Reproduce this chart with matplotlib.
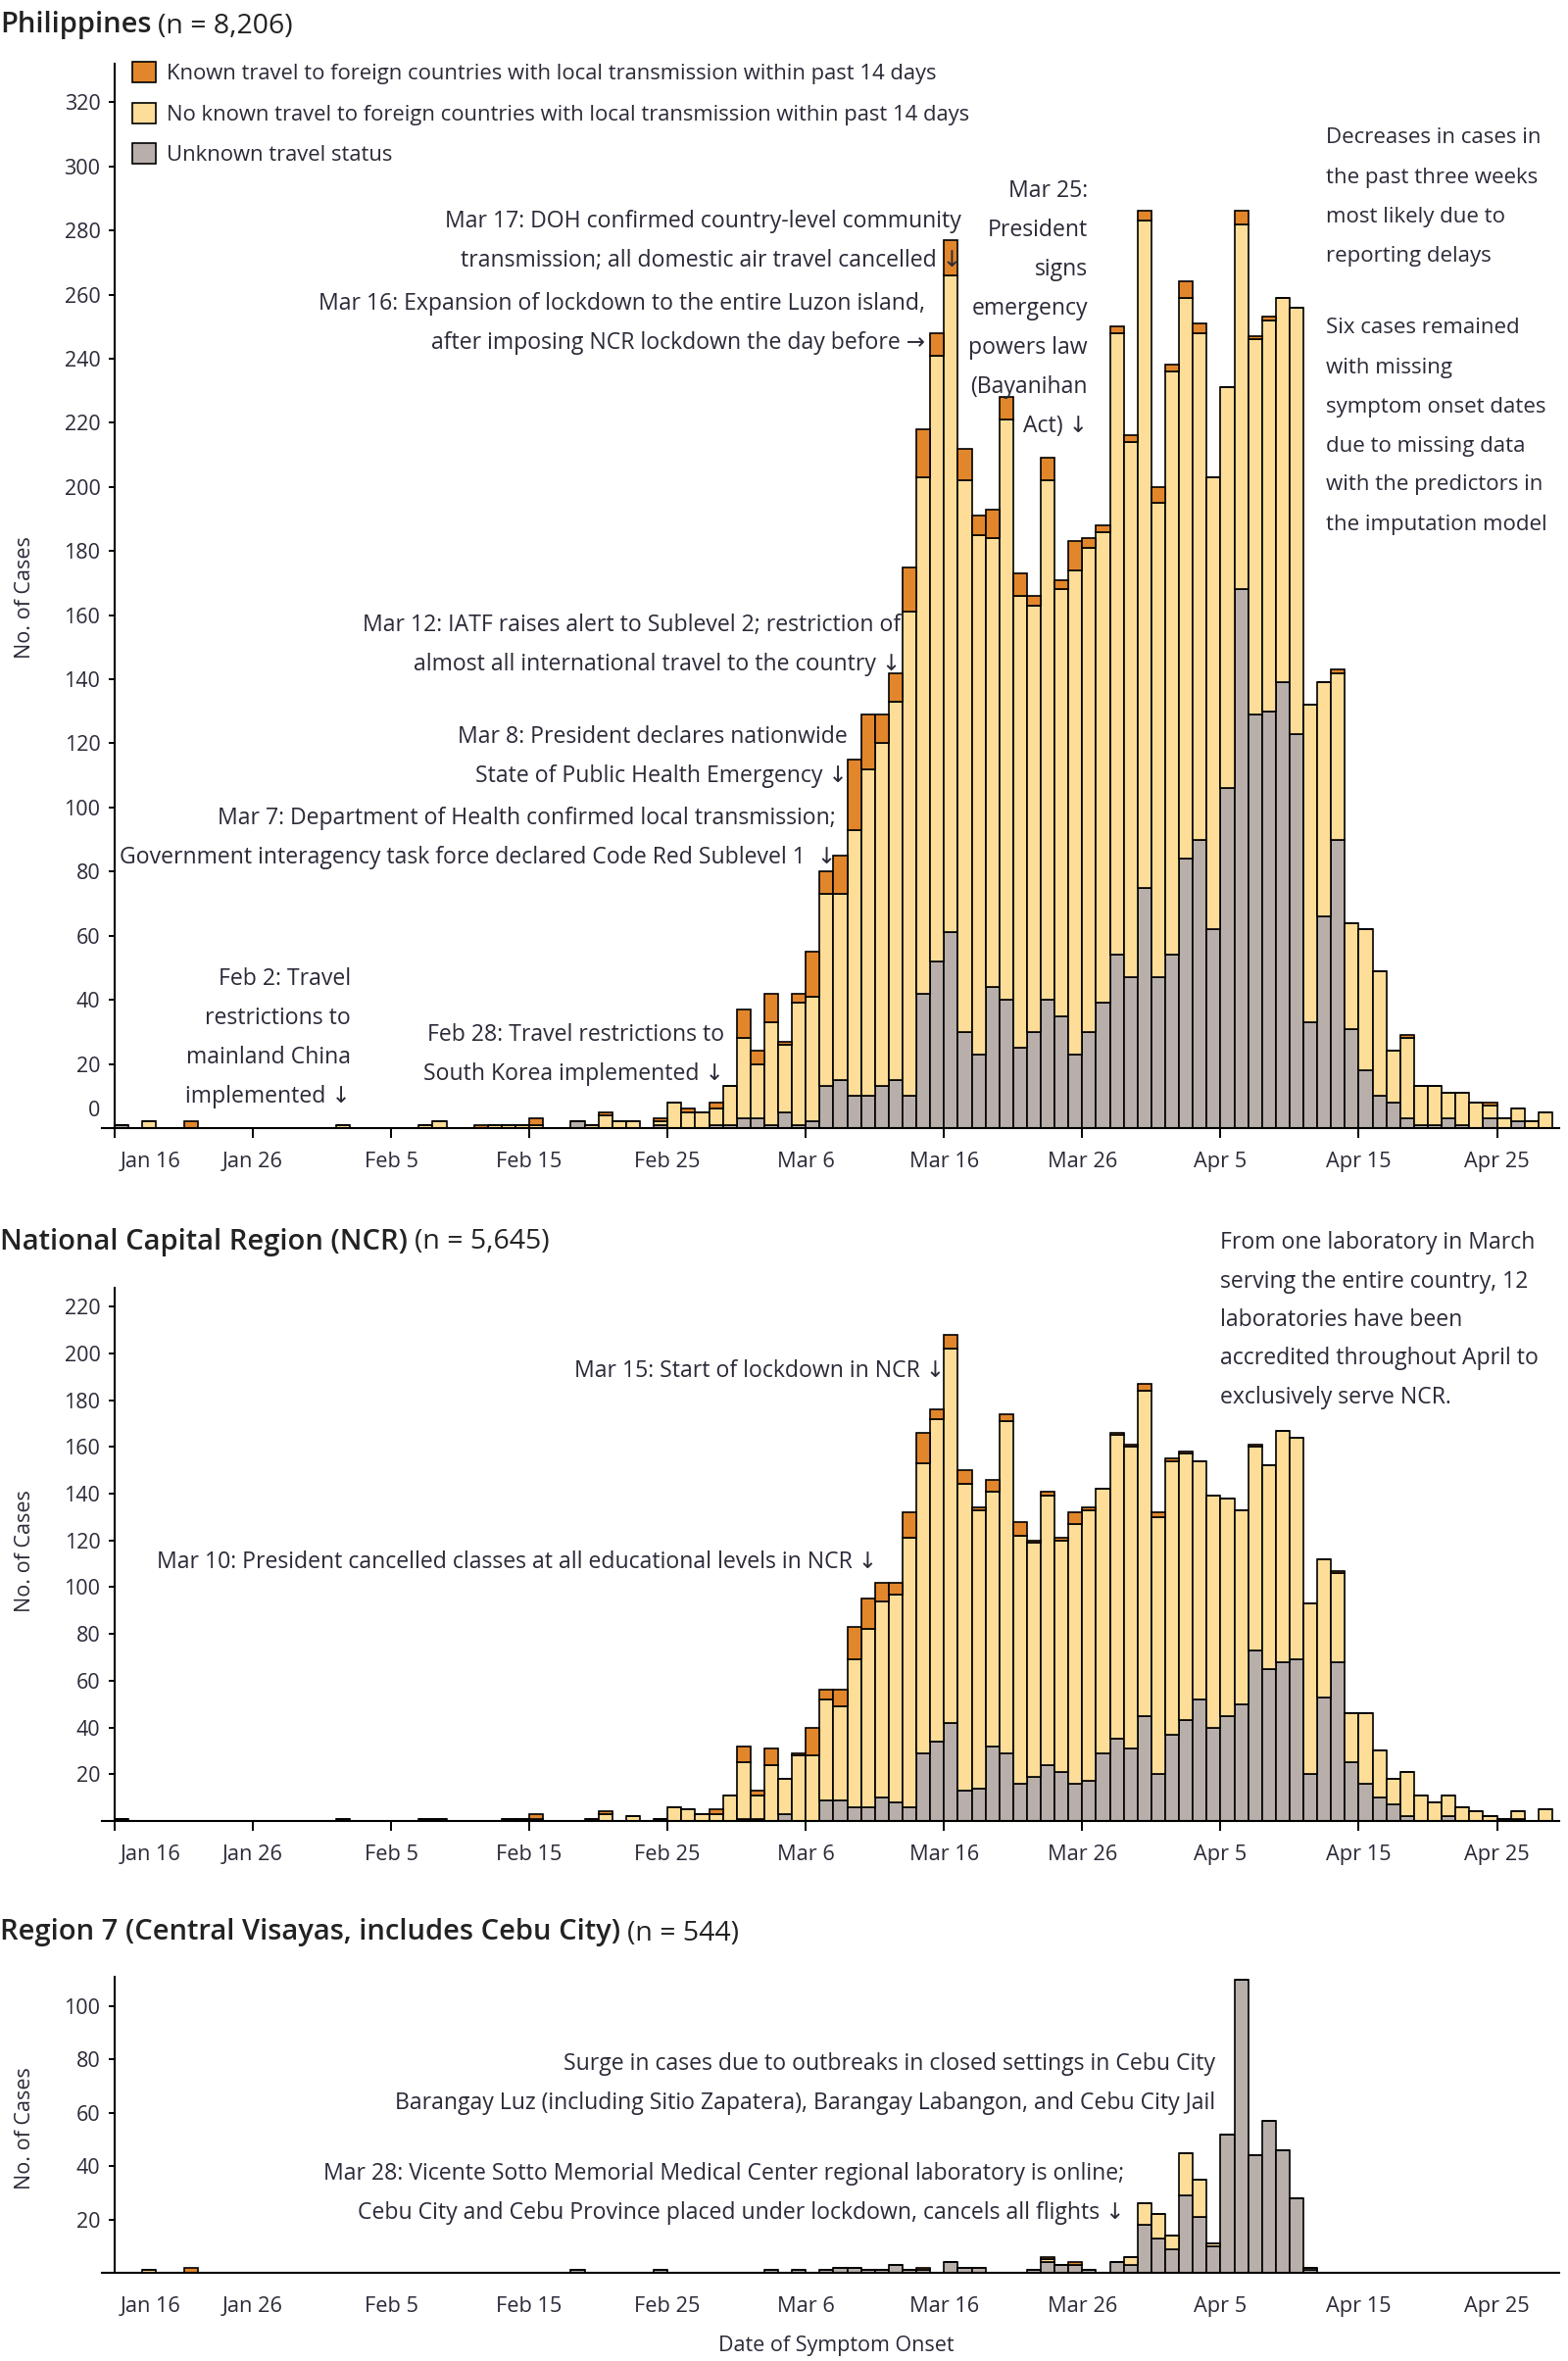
"""
Epidemic curves by date of symptom onset: Philippines, NCR and Region 7
"""

import matplotlib.pyplot as plt
import matplotlib.transforms as mtransforms
from matplotlib.patches import Patch
import numpy as np

plt.rcParams['font.family'] = ['Open Sans', 'DejaVu Sans']

# Days counted from Jan 16 (day 0) to Apr 28 (day 103)
days = np.arange(104)
tick_days = np.arange(0, 101, 10)
tick_labels = ["Jan 16", "Jan 26", "Feb 5", "Feb 15", "Feb 25", "Mar 6",
               "Mar 16", "Mar 26", "Apr 5", "Apr 15", "Apr 25"]

legend_labels = ["Known travel to foreign countries with local transmission within past 14 days",
                 "No known travel to foreign countries with local transmission within past 14 days",
                 "Unknown travel status"]

# Philippines
ph_unknown = [1, 0, 0, 0, 0, 0, 0, 0, 0, 0,
              0, 0, 0, 0, 0, 0, 0, 0, 0, 0,
              0, 0, 0, 0, 0, 0, 0, 0, 0, 0,
              0, 0, 0, 2, 0, 0, 0, 0, 0, 1,
              0, 0, 0, 1, 1, 3, 3, 1, 5, 1,
              2, 13, 15, 10, 10, 13, 15, 10, 42, 52,
              61, 30, 23, 44, 40, 25, 30, 40, 35, 23,
              30, 39, 54, 47, 75, 47, 54, 84, 90, 62,
              106, 168, 129, 130, 139, 123, 33, 66, 90, 31,
              18, 10, 8, 3, 1, 1, 3, 1, 0, 3,
              0, 2, 0, 0]
ph_local = [0, 0, 2, 0, 0, 0, 0, 0, 0, 0,
            0, 0, 0, 0, 0, 0, 1, 0, 0, 0,
            0, 0, 1, 2, 0, 0, 0, 1, 1, 1,
            1, 0, 0, 0, 1, 4, 2, 2, 0, 1,
            8, 5, 5, 5, 12, 25, 17, 32, 21, 38,
            39, 60, 58, 83, 102, 107, 118, 151, 161, 189,
            205, 172, 162, 140, 181, 141, 133, 162, 133, 151,
            151, 147, 194, 167, 208, 148, 182, 175, 158, 141,
            125, 114, 117, 122, 120, 133, 99, 73, 52, 33,
            44, 39, 16, 25, 12, 12, 8, 10, 8, 4,
            3, 4, 2, 5]
ph_travel = [0, 0, 0, 0, 0, 2, 0, 0, 0, 0,
             0, 0, 0, 0, 0, 0, 0, 0, 0, 0,
             0, 0, 0, 0, 0, 0, 1, 0, 0, 0,
             2, 0, 0, 0, 0, 1, 0, 0, 0, 1,
             0, 1, 0, 2, 0, 9, 4, 9, 1, 3,
             14, 7, 12, 22, 17, 9, 9, 14, 15, 7,
             11, 10, 6, 9, 7, 7, 3, 7, 3, 9,
             3, 2, 2, 2, 3, 5, 2, 5, 3, 0,
             0, 4, 1, 1, 0, 0, 0, 0, 1, 0,
             0, 0, 0, 1, 0, 0, 0, 0, 0, 1,
             0, 0, 0, 0]

# National Capital Region
ncr_unknown = [1, 0, 0, 0, 0, 0, 0, 0, 0, 0,
               0, 0, 0, 0, 0, 0, 0, 0, 0, 0,
               0, 0, 0, 0, 0, 0, 0, 0, 0, 0,
               0, 0, 0, 0, 0, 0, 0, 0, 0, 1,
               0, 0, 0, 0, 0, 1, 1, 0, 3, 0,
               0, 9, 9, 6, 6, 10, 8, 6, 29, 34,
               42, 13, 14, 32, 29, 16, 19, 24, 21, 16,
               17, 29, 35, 31, 45, 20, 37, 43, 52, 40,
               45, 50, 73, 65, 68, 69, 20, 53, 68, 25,
               16, 10, 7, 2, 0, 0, 2, 0, 0, 0,
               0, 1, 0, 0]
ncr_local = [0, 0, 0, 0, 0, 0, 0, 0, 0, 0,
             0, 0, 0, 0, 0, 0, 1, 0, 0, 0,
             0, 0, 1, 1, 0, 0, 0, 0, 1, 1,
             1, 0, 0, 0, 1, 3, 0, 2, 0, 0,
             6, 5, 3, 3, 11, 24, 10, 24, 15, 28,
             28, 43, 40, 63, 76, 84, 89, 115, 124, 138,
             160, 131, 119, 109, 142, 106, 100, 115, 99, 111,
             116, 113, 130, 129, 139, 110, 117, 114, 102, 99,
             93, 83, 87, 87, 99, 95, 73, 59, 38, 21,
             30, 20, 11, 19, 11, 8, 9, 6, 4, 2,
             1, 3, 0, 5]
ncr_travel = [0, 0, 0, 0, 0, 0, 0, 0, 0, 0,
              0, 0, 0, 0, 0, 0, 0, 0, 0, 0,
              0, 0, 0, 0, 0, 0, 0, 0, 0, 0,
              2, 0, 0, 0, 0, 1, 0, 0, 0, 0,
              0, 0, 0, 2, 0, 7, 2, 7, 0, 1,
              12, 4, 7, 14, 13, 8, 5, 11, 13, 4,
              6, 6, 1, 5, 3, 6, 1, 2, 1, 5,
              1, 0, 1, 1, 3, 2, 1, 1, 0, 0,
              0, 0, 1, 0, 0, 0, 0, 0, 1, 0,
              0, 0, 0, 0, 0, 0, 0, 0, 0, 0,
              0, 0, 0, 0]

# Region 7 (Central Visayas)
r7_unknown = [0, 0, 0, 0, 0, 0, 0, 0, 0, 0,
              0, 0, 0, 0, 0, 0, 0, 0, 0, 0,
              0, 0, 0, 0, 0, 0, 0, 0, 0, 0,
              0, 0, 0, 1, 0, 0, 0, 0, 0, 1,
              0, 0, 0, 0, 0, 0, 0, 1, 0, 1,
              0, 1, 2, 2, 1, 1, 3, 1, 1, 0,
              4, 2, 2, 0, 0, 0, 1, 4, 3, 3,
              1, 0, 4, 3, 18, 13, 9, 29, 21, 10,
              52, 110, 44, 57, 46, 28, 1, 0, 0, 0,
              0, 0, 0, 0, 0, 0, 0, 0, 0, 0,
              0, 0, 0, 0]
r7_local = [0, 0, 1, 0, 0, 0, 0, 0, 0, 0,
            0, 0, 0, 0, 0, 0, 0, 0, 0, 0,
            0, 0, 0, 0, 0, 0, 0, 0, 0, 0,
            0, 0, 0, 0, 0, 0, 0, 0, 0, 0,
            0, 0, 0, 0, 0, 0, 0, 0, 0, 0,
            0, 0, 0, 0, 0, 0, 0, 0, 0, 0,
            0, 0, 0, 0, 0, 0, 0, 1, 0, 0,
            0, 0, 0, 3, 8, 9, 5, 16, 14, 1,
            0, 0, 0, 0, 0, 0, 1, 0, 0, 0,
            0, 0, 0, 0, 0, 0, 0, 0, 0, 0,
            0, 0, 0, 0]
r7_travel = [0, 0, 0, 0, 0, 2, 0, 0, 0, 0,
             0, 0, 0, 0, 0, 0, 0, 0, 0, 0,
             0, 0, 0, 0, 0, 0, 0, 0, 0, 0,
             0, 0, 0, 0, 0, 0, 0, 0, 0, 0,
             0, 0, 0, 0, 0, 0, 0, 0, 0, 0,
             0, 0, 0, 0, 0, 0, 0, 0, 1, 0,
             0, 0, 0, 0, 0, 0, 0, 1, 0, 1,
             0, 0, 0, 0, 0, 0, 0, 0, 0, 0,
             0, 0, 0, 0, 0, 0, 0, 0, 0, 0,
             0, 0, 0, 0, 0, 0, 0, 0, 0, 0,
             0, 0, 0, 0]

# Colours
c_travel = "#e2862c"
c_local = "#fedd98"
c_unknown = "#b8afab"
text_col = "#2a2a38"

W, H = 1600, 2409  # canvas size in pixels, positions below are given in these pixels
fig = plt.figure(figsize=(W / 100, H / 100), dpi=100)


def px_text(x, y, s, **kw):
    kw.setdefault("color", text_col)
    return fig.text(x / W, 1 - y / H, s, **kw)


def make_axes(top, bottom, ymax, yticks, xtick_len, xtick_pad):
    ax = fig.add_axes([104.3 / W, 1 - bottom / H, (1591 - 104.3) / W, (bottom - top) / H])
    ax.set_xlim(-0.9, 104.5)
    ax.set_ylim(0, ymax)
    for s in ["top", "right"]:
        ax.spines[s].set_visible(False)
    ax.spines["left"].set_position(("data", 0))
    ax.spines["left"].set_linewidth(1.5)
    ax.spines["bottom"].set_linewidth(1.5)
    ax.set_xticks(tick_days)
    ax.set_xticklabels(tick_labels)
    ax.set_yticks(yticks)
    ax.tick_params(axis="x", length=xtick_len, width=1.4, pad=xtick_pad, labelsize=15.7,
                   labelcolor=text_col)
    ax.tick_params(axis="y", length=4.5, width=1.4, pad=6, labelsize=15.5, labelcolor=text_col)
    # first date label sits to the right of its tick, clear of the y axis
    lab = ax.get_xticklabels()[0]
    lab.set_transform(lab.get_transform() + mtransforms.ScaledTranslation(0.37, 0, fig.dpi_scale_trans))
    return ax


def draw_stack(ax, unknown, local, travel):
    unknown = np.array(unknown, dtype=float)
    local = np.array(local, dtype=float)
    travel = np.array(travel, dtype=float)
    kw = dict(width=1, align="edge", edgecolor="black", linewidth=1.2)
    ax.bar(days, unknown, color=c_unknown, **kw)
    ax.bar(days, local, bottom=unknown, color=c_local, **kw)
    ax.bar(days, travel, bottom=unknown + local, color=c_travel, **kw)


def title(ax, y, name, n):
    t = px_text(0, y, name, fontsize=21, fontweight="semibold", va="center", color="#222222")
    ax.annotate(n, xy=(1, 0), xycoords=t, xytext=(5, 0), textcoords="offset points",
                va="bottom", ha="left", fontsize=20.5, color="#222222",
                annotation_clip=False)


def note_block(x, y0, lines, ha, size=16.6, step=40):
    for i, line in enumerate(lines):
        px_text(x, y0 + i * step, line, ha=ha, va="center", fontsize=size)


# ---- Panel 1: Philippines
ax1 = make_axes(65, 1151, 332, np.arange(0, 321, 20), 7, 10)
draw_stack(ax1, ph_unknown, ph_local, ph_travel)
zero_lab = ax1.get_yticklabels()[0]
zero_lab.set_transform(zero_lab.get_transform() + mtransforms.ScaledTranslation(0, 0.2, fig.dpi_scale_trans))

# ---- Panel 2: NCR
ax2 = make_axes(1314, 1858, 228, np.arange(20, 221, 20), 7, 10)
draw_stack(ax2, ncr_unknown, ncr_local, ncr_travel)

# ---- Panel 3: Region 7
ax3 = make_axes(2017, 2319, 111, np.arange(20, 101, 20), 0, 17)
draw_stack(ax3, r7_unknown, r7_local, r7_travel)

title(ax1, 26, "Philippines", "(n = 8,206)")
title(ax2, 1267, "National Capital Region (NCR)", "(n = 5,645)")
title(ax3, 1972, "Region 7 (Central Visayas, includes Cebu City)", "(n = 544)")

# legend
handles = [Patch(facecolor=c, edgecolor="black", linewidth=1.2) for c in (c_travel, c_local, c_unknown)]
fig.legend(handles, legend_labels, loc="upper left", bbox_to_anchor=(135 / W, 1 - 63 / H),
           frameon=False, fontsize=15.8, handlelength=1.1, handleheight=1.1,
           handletextpad=0.5, labelspacing=0.85, borderaxespad=0, borderpad=0,
           labelcolor=text_col)

# axis labels
for yc in (610, 1583, 2172):
    px_text(26, yc, "No. of Cases", rotation=90, ha="center", va="center", fontsize=15.5)
px_text(853, 2393, "Date of Symptom Onset", ha="center", va="center", fontsize=15.5)

# ---- annotations, Philippines
note_block(981, 226, ["Mar 17: DOH confirmed country-level community",
                      "transmission; all domestic air travel cancelled \u2193"], "right")
note_block(944, 310, ["Mar 16: Expansion of lockdown to the entire Luzon island,",
                      "after imposing NCR lockdown the day before \u2192"], "right")
note_block(1110, 195, ["Mar 25:", "President", "signs", "emergency", "powers law",
                       "(Bayanihan", "Act) \u2193"], "right")
note_block(1353, 141, ["Decreases in cases in", "the past three weeks",
                       "most likely due to", "reporting delays"], "left", size=16)
note_block(1353, 335, ["Six cases remained", "with missing", "symptom onset dates",
                       "due to missing data", "with the predictors in",
                       "the imputation model"], "left", size=16)
note_block(919, 638, ["Mar 12: IATF raises alert to Sublevel 2; restriction of",
                      "almost all international travel to the country \u2193"], "right")
note_block(865, 752, ["Mar 8: President declares nationwide",
                      "State of Public Health Emergency \u2193"], "right")
note_block(853, 835, ["Mar 7: Department of Health confirmed local transmission;",
                      "Government interagency task force declared Code Red Sublevel 1  \u2193"], "right")
note_block(358, 999, ["Feb 2: Travel", "restrictions to", "mainland China",
                      "implemented \u2193"], "right")
note_block(739, 1056, ["Feb 28: Travel restrictions to",
                       "South Korea implemented \u2193"], "right")

# ---- annotations, NCR
note_block(1245, 1268, ["From one laboratory in March", "serving the entire country, 12",
                        "laboratories have been", "accredited throughout April to",
                        "exclusively serve NCR."], "left", step=39.5)
note_block(964, 1399, ["Mar 15: Start of lockdown in NCR \u2193"], "right")
note_block(895, 1594, ["Mar 10: President cancelled classes at all educational levels in NCR \u2193"], "right")

# ---- annotations, Region 7
note_block(1240, 2106, ["Surge in cases due to outbreaks in closed settings in Cebu City",
                        "Barangay Luz (including Sitio Zapatera), Barangay Labangon, and Cebu City Jail"],
           "right")
note_block(1147, 2218, ["Mar 28: Vicente Sotto Memorial Medical Center regional laboratory is online;",
                        "Cebu City and Cebu Province placed under lockdown, cancels all flights \u2193"],
           "right")

fig.savefig("out.png", dpi=100)
